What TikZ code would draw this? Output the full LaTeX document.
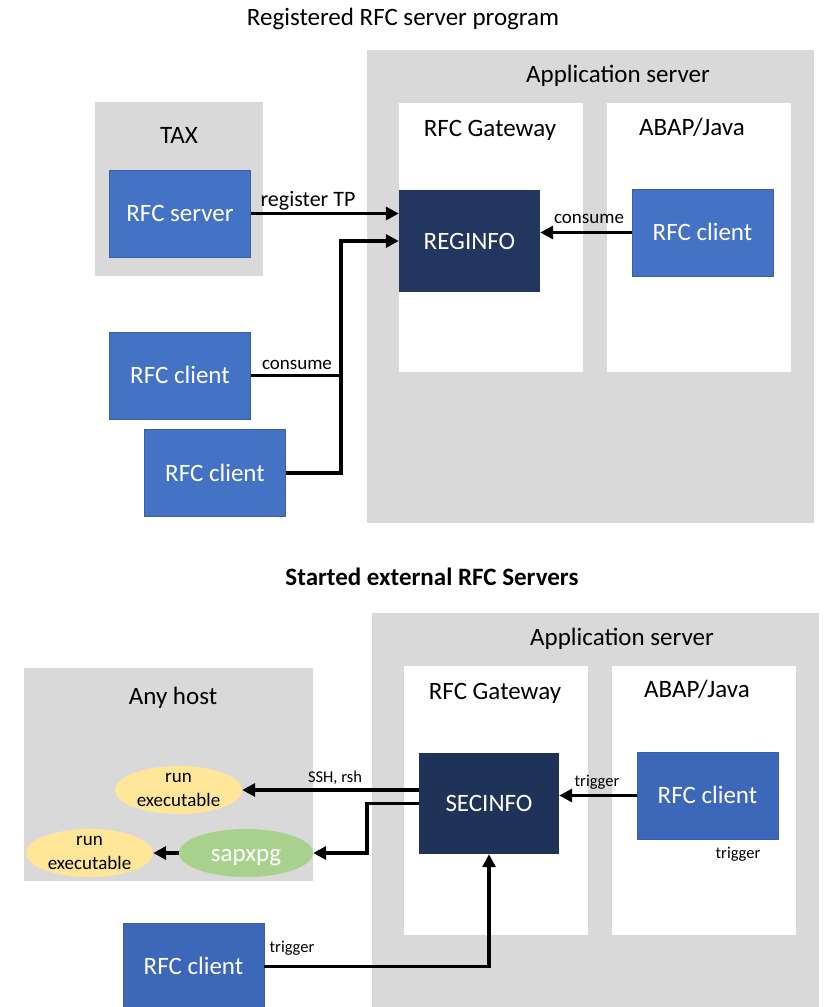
\documentclass[tikz,border=0pt]{standalone}
\usepackage{fontspec}
\setmainfont{Carlito}
\usetikzlibrary{arrows.meta,positioning,shapes.geometric}

\definecolor{hostgray}{HTML}{D9D9D9}
\definecolor{clientblue}{HTML}{4472C4}
\definecolor{clientdeep}{HTML}{3D67B9}
\definecolor{clientedge}{HTML}{3A5FA8}
\definecolor{infonavy}{HTML}{22365F}
\definecolor{runyellow}{HTML}{FFE699}
\definecolor{xpggreen}{HTML}{A9D18E}

\newcommand{\boxfont}{\fontsize{25}{30}\selectfont}
\newcommand{\tpfont}{\fontsize{22}{26}\selectfont}
\newcommand{\edgefont}{\fontsize{19}{24}\selectfont}
\newcommand{\trigfont}{\fontsize{16.5}{20}\selectfont}

\begin{document}
\begin{tikzpicture}[x=1pt,y=-1pt,
    host/.style={rectangle,fill=hostgray,inner sep=0pt},
    pane/.style={rectangle,fill=white,inner sep=0pt,minimum width=184pt,minimum height=269pt},
    client/.style={rectangle,fill=clientblue,draw=clientedge,line width=0.6pt,inner sep=0pt,minimum width=141pt,minimum height=87pt,text=white,font=\boxfont,text height=16pt,text depth=0pt},
    info/.style={rectangle,fill=infonavy,inner sep=0pt,minimum width=141pt,minimum height=102pt,text=white,font=\boxfont,text height=16pt,text depth=0pt},
    runexe/.style={ellipse,fill=runyellow,inner sep=0pt,minimum width=127pt,minimum height=48pt,font=\edgefont,align=center},
    title/.style={inner sep=0pt,font=\boxfont,text height=16pt,text depth=0pt},
    note/.style={inner sep=0pt,text depth=0pt},
    flow/.style={line width=3.5pt,black,-{Triangle[length=13pt,width=13pt]}},
    link/.style={line width=3.5pt,black},
   ]
    \useasboundingbox (0,0) rectangle (825,1007);

    % registered RFC server program
    \node (titleA) [title] at (403,17) {Registered RFC server program};

    \node (appA)  [host,minimum width=447pt,minimum height=473pt] at (590.5,286.5) {};
    \node (appAl) [title] at (618,74) {Application server};
    \node (gwA)   [pane] at (491,237.5) {};
    \node (gwAl)  [title] at (490,128) {RFC Gateway};
    \node (abapA) [pane] at (699,237.5) {};
    \node (abapAl)[title] at (692,127) {ABAP/Java};
    \node (reginfo) [info] at (469.5,241) {REGINFO};
    \node (clientA) [client] at (702.5,232.5) {RFC client};

    \node (tax)   [host,minimum width=168pt,minimum height=174pt] at (179,189) {};
    \node (taxl)  [title] at (179,135) {TAX};
    \node (server)  [client] at (180,213.5) {RFC server};
    \node (clientB) [client] at (180,375.5) {RFC client};
    \node (clientC) [client] at (215,473) {RFC client};

    \coordinate (joinA) at (341,0);
    \draw[flow] (server.east) -- (server.east -| reginfo.west);
    \draw[flow] (clientC.east) -| (joinA |- reginfo.west) -- (reginfo.west);
    \draw[link] (clientB.east) -- (clientB.east -| joinA);
    \draw[flow] (clientA.west) -- (clientA.west -| reginfo.east);

    \node (regtp)  [note,font=\tpfont,text height=14pt] at (308,199) {register TP};
    \node (consB)  [note,font=\edgefont,text height=12pt] at (297,363) {consume};
    \node (consA)  [note,font=\edgefont,text height=12pt] at (589,217) {consume};

    % started external RFC servers
    \node (titleB) [title,font=\boxfont\bfseries] at (432,577) {Started external RFC Servers};

    \node (appB)  [host,minimum width=447pt,minimum height=394pt] at (595.5,810) {};
    \node (appBl) [title] at (622,637) {Application server};
    \node (gwB)   [pane] at (496,800.5) {};
    \node (gwBl)  [title] at (495,691) {RFC Gateway};
    \node (abapB) [pane] at (704,800.5) {};
    \node (abapBl)[title] at (697,689) {ABAP/Java};
    \node (secinfo) [info,minimum width=140pt,minimum height=101pt,fill=infonavy!92!black] at (489,803.5) {SECINFO};
    \node (clientD) [client,fill=clientdeep] at (707.5,795.5) {RFC client};

    \node (anyhost)  [host,minimum width=289pt,minimum height=213pt] at (168.5,774.5) {};
    \node (anyhostl) [title] at (173,696) {Any host};
    \node (runA)   [runexe] at (178.5,790) {run\\executable};
    \node (runB)   [runexe] at (89.5,853) {run\\executable};
    \node (sapxpg) [ellipse,fill=xpggreen,inner sep=0pt,minimum width=134pt,minimum height=48pt,text=white,font=\boxfont,text height=16pt,text depth=0pt] at (246,853) {sapxpg};
    \node (clientE) [client,fill=clientdeep] at (193.5,966.5) {RFC client};

    \coordinate (joinB) at (367,0);
    \draw[flow] (secinfo.west |- runA.east) -- (runA.east);
    \draw[flow] (secinfo.west) -| (joinB |- sapxpg.east) -- (sapxpg.east);
    \draw[flow] (sapxpg.west) -- (runB.east);
    \draw[flow] (clientD.west) -- (clientD.west -| secinfo.east);
    \draw[flow] (clientE.east) -| (secinfo.south);

    \node (sshrsh) [note,font=\trigfont,text height=10.6pt] at (335,777) {SSH, rsh};
    \node (trigD)  [note,font=\trigfont,text height=10.6pt] at (597,781) {trigger};
    \node (trigU)  [note,font=\trigfont,text height=10.6pt] at (738,853) {trigger};
    \node (trigE)  [note,font=\trigfont,text height=10.6pt] at (292,947) {trigger};
   \end{tikzpicture}
\end{document}
